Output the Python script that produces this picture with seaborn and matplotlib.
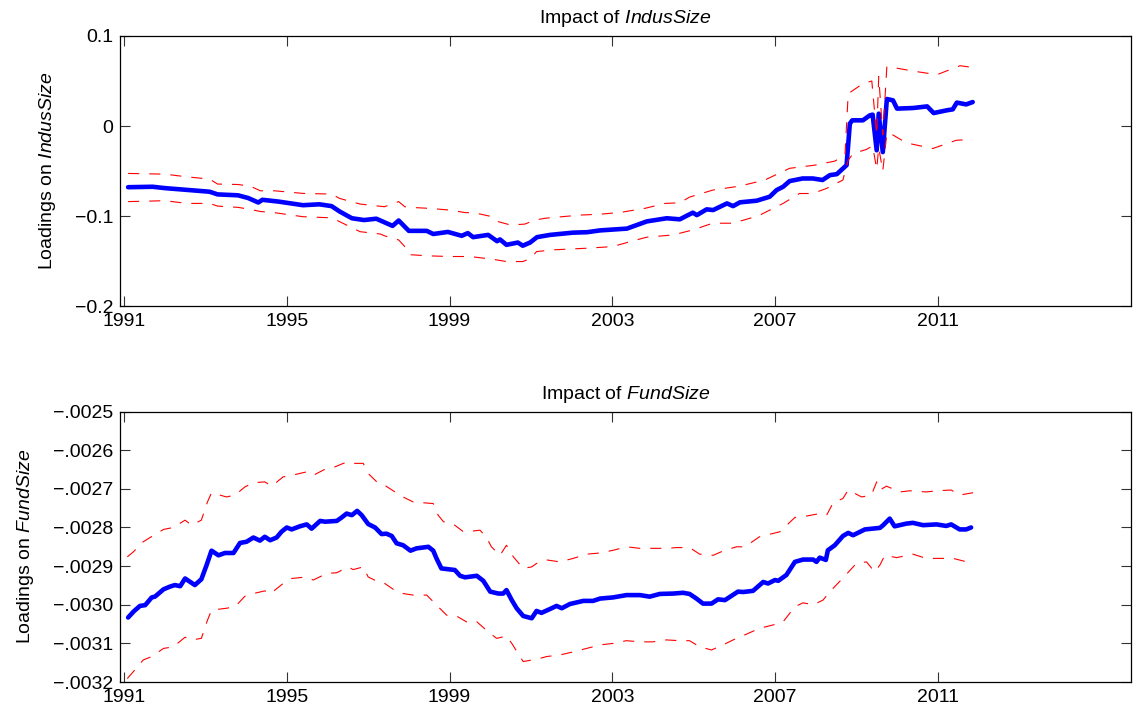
import numpy as np
import pandas as pd
import matplotlib
matplotlib.use("Agg")
import matplotlib.pyplot as plt
import seaborn as sns
from matplotlib.ticker import FuncFormatter, MultipleLocator

# ---- data (decimal years) ----
# Panel 1: loadings on IndusSize
indus_mean_years = [1991.1, 1991.7, 1992.0, 1992.55, 1993.1, 1993.3, 1993.8, 1994.05, 1994.3, 1994.4,
                    1994.8, 1995.4, 1995.8, 1996.1, 1996.3, 1996.6, 1996.9, 1997.2, 1997.6, 1997.75,
                    1998.0, 1998.44, 1998.6, 1998.96, 1999.3, 1999.45, 1999.58, 1999.95, 2000.17, 2000.24,
                    2000.4, 2000.68, 2000.8, 2000.98, 2001.15, 2001.47, 2002.03, 2002.38, 2002.7, 2003.36,
                    2003.85, 2004.34, 2004.66, 2004.98, 2005.08, 2005.32, 2005.48, 2005.82, 2005.97, 2006.14,
                    2006.55, 2006.87, 2007.04, 2007.2, 2007.36, 2007.68, 2007.93, 2008.17, 2008.35, 2008.52,
                    2008.76, 2008.84, 2008.9, 2009.16, 2009.33, 2009.4, 2009.5, 2009.55, 2009.65, 2009.75,
                    2009.9, 2010.0, 2010.4, 2010.74, 2010.9, 2011.22, 2011.37, 2011.47, 2011.7, 2011.86]
indus_mean = [-0.068, -0.0675, -0.069, -0.071, -0.073, -0.076, -0.077, -0.080, -0.085, -0.082,
              -0.084, -0.088, -0.087, -0.089, -0.095, -0.1025, -0.1045, -0.103, -0.111, -0.105,
              -0.1165, -0.1165, -0.120, -0.1177, -0.122, -0.119, -0.1235, -0.121, -0.128, -0.126,
              -0.132, -0.1295, -0.133, -0.1295, -0.1235, -0.121, -0.1185, -0.118, -0.116, -0.114,
              -0.106, -0.1025, -0.1037, -0.0963, -0.099, -0.0926, -0.0934, -0.086, -0.089, -0.0848,
              -0.083, -0.0786, -0.0712, -0.0675, -0.0612, -0.0583, -0.0583, -0.060, -0.0546, -0.0535,
              -0.0435, 0.0026, 0.0063, 0.0063, 0.0118, 0.0126, -0.027, 0.0137, -0.029, 0.030,
              0.0285, 0.0193, 0.020, 0.0218, 0.0144, 0.0174, 0.0185, 0.026, 0.024, 0.0266]

indus_hi_years = [1991.1, 1992.0, 1992.55, 1993.1, 1993.3, 1993.8, 1994.1, 1994.35, 1994.7, 1995.4,
                  1996.1, 1996.3, 1996.8, 1997.4, 1997.75, 1997.9, 1998.03, 1998.5, 1999.0, 1999.4,
                  1999.6, 2000.05, 2000.2, 2000.5, 2000.85, 2001.1, 2001.35, 2002.2, 2002.7, 2003.2,
                  2003.8, 2004.3, 2004.66, 2004.9, 2005.47, 2006.13, 2006.75, 2007.36, 2007.98, 2008.47,
                  2008.72, 2008.8, 2009.16, 2009.38, 2009.5, 2009.55, 2009.65, 2009.75, 2009.9, 2010.4,
                  2010.98, 2011.55, 2011.86]
indus_hi = [-0.0527, -0.0535, -0.0565, -0.059, -0.0645, -0.065, -0.0668, -0.072, -0.072, -0.0749,
            -0.0756, -0.0805, -0.0867, -0.0897, -0.084, -0.0897, -0.0904, -0.0915, -0.0934, -0.0963,
            -0.0963, -0.1008, -0.1063, -0.110, -0.109, -0.1045, -0.1025, -0.099, -0.098, -0.096,
            -0.0915, -0.086, -0.0853, -0.079, -0.0712, -0.0668, -0.060, -0.047, -0.0435, -0.039,
            -0.0324, 0.036, 0.047, 0.050, -0.010, 0.055, -0.010, 0.066, 0.065, 0.061,
            0.057, 0.067, 0.065]

indus_lo_years = [1991.1, 1992.0, 1992.55, 1993.1, 1993.3, 1993.8, 1994.1, 1994.35, 1994.7, 1995.4,
                  1996.1, 1996.3, 1996.8, 1997.3, 1997.4, 1997.75, 1997.9, 1998.03, 1998.5, 1999.0,
                  1999.5, 2000.05, 2000.4, 2000.8, 2001.0, 2001.14, 2001.55, 2002.37, 2003.0, 2003.84,
                  2004.5, 2004.98, 2005.47, 2005.97, 2006.6, 2007.2, 2007.6, 2007.93, 2008.27, 2008.67,
                  2008.8, 2008.92, 2009.25, 2009.4, 2009.5, 2009.55, 2009.65, 2009.75, 2009.9, 2010.23,
                  2010.88, 2011.46, 2011.86]
indus_lo = [-0.084, -0.083, -0.086, -0.086, -0.089, -0.0904, -0.0926, -0.095, -0.0963, -0.1008,
            -0.102, -0.1063, -0.1174, -0.120, -0.122, -0.1266, -0.134, -0.143, -0.1443, -0.145,
            -0.145, -0.148, -0.1506, -0.1506, -0.147, -0.1395, -0.1376, -0.1358, -0.134, -0.1236,
            -0.121, -0.1155, -0.108, -0.108, -0.0996, -0.086, -0.075, -0.075, -0.0693, -0.060,
            -0.038, -0.0306, -0.026, -0.022, -0.048, -0.024, -0.050, -0.008, -0.010, -0.0188,
            -0.025, -0.0158, -0.015]

# Panel 2: loadings on FundSize, values in units of 1e-4
fund_mean_years = [1991.1, 1991.23, 1991.39, 1991.52, 1991.68, 1991.76, 1991.97, 1992.13, 1992.25, 1992.38,
                   1992.5, 1992.74, 1992.9, 1993.03, 1993.15, 1993.32, 1993.48, 1993.69, 1993.85, 1994.01,
                   1994.18, 1994.34, 1994.46, 1994.59, 1994.75, 1994.87, 1995.0, 1995.12, 1995.32, 1995.49,
                   1995.61, 1995.82, 1995.94, 1996.23, 1996.35, 1996.47, 1996.6, 1996.73, 1996.84, 1997.0,
                   1997.17, 1997.33, 1997.45, 1997.58, 1997.7, 1997.86, 1998.04, 1998.19, 1998.48, 1998.6,
                   1998.68, 1998.8, 1999.13, 1999.26, 1999.38, 1999.67, 1999.83, 2000.0, 2000.2, 2000.32,
                   2000.4, 2000.53, 2000.65, 2000.81, 2001.02, 2001.14, 2001.26, 2001.47, 2001.63, 2001.76,
                   2001.96, 2002.29, 2002.53, 2002.7, 2003.02, 2003.35, 2003.68, 2003.92, 2004.17, 2004.5,
                   2004.74, 2004.9, 2005.07, 2005.23, 2005.44, 2005.6, 2005.77, 2006.09, 2006.22, 2006.46,
                   2006.71, 2006.83, 2007.0, 2007.08, 2007.28, 2007.49, 2007.69, 2007.94, 2008.02, 2008.1,
                   2008.25, 2008.3, 2008.47, 2008.67, 2008.8, 2008.92, 2009.21, 2009.58, 2009.66, 2009.82,
                   2009.94, 2010.23, 2010.39, 2010.64, 2010.97, 2011.21, 2011.33, 2011.54, 2011.7, 2011.82]
fund_mean_e4 = [-30.33, -30.18, -30.03, -30.01, -29.81, -29.79, -29.60, -29.53, -29.49, -29.52,
                -29.32, -29.49, -29.34, -28.97, -28.60, -28.72, -28.66, -28.66, -28.40, -28.37,
                -28.26, -28.34, -28.24, -28.33, -28.26, -28.11, -28.00, -28.05, -27.97, -27.92,
                -28.03, -27.83, -27.85, -27.83, -27.74, -27.64, -27.68, -27.57, -27.68, -27.91,
                -28.00, -28.17, -28.16, -28.22, -28.41, -28.46, -28.60, -28.54, -28.50, -28.60,
                -28.80, -29.06, -29.10, -29.25, -29.29, -29.25, -29.38, -29.66, -29.71, -29.71,
                -29.62, -29.88, -30.09, -30.29, -30.35, -30.16, -30.21, -30.11, -30.03, -30.09,
                -29.98, -29.90, -29.90, -29.84, -29.81, -29.75, -29.75, -29.79, -29.72, -29.71,
                -29.69, -29.72, -29.84, -29.97, -29.97, -29.86, -29.88, -29.66, -29.67, -29.64,
                -29.41, -29.45, -29.36, -29.38, -29.23, -28.89, -28.83, -28.83, -28.89, -28.78,
                -28.84, -28.59, -28.46, -28.22, -28.14, -28.20, -28.05, -28.01, -27.94, -27.77,
                -27.97, -27.90, -27.88, -27.94, -27.92, -27.96, -27.92, -28.05, -28.05, -28.00]

fund_hi_years = [1991.08, 1991.23, 1991.47, 1991.64, 1991.97, 1992.21, 1992.5, 1992.66, 1992.9, 1993.05,
                 1993.15, 1993.52, 1993.73, 1993.97, 1994.18, 1994.46, 1994.63, 1994.91, 1995.12, 1995.49,
                 1995.65, 1995.98, 1996.14, 1996.39, 1996.51, 1996.63, 1996.88, 1997.0, 1997.25, 1997.41,
                 1997.66, 1997.82, 1998.11, 1998.35, 1998.6, 1998.72, 1998.85, 1999.09, 1999.34, 1999.58,
                 1999.75, 1999.91, 2000.03, 2000.24, 2000.4, 2000.57, 2000.81, 2001.02, 2001.14, 2001.39,
                 2001.71, 2002.04, 2002.37, 2002.7, 2003.02, 2003.35, 2003.68, 2004.0, 2004.33, 2004.58,
                 2004.9, 2005.15, 2005.48, 2005.72, 2006.05, 2006.26, 2006.62, 2007.12, 2007.49, 2007.69,
                 2008.1, 2008.27, 2008.43, 2008.67, 2008.8, 2009.13, 2009.37, 2009.5, 2009.58, 2009.74,
                 2010.07, 2010.31, 2010.72, 2010.97, 2011.33, 2011.54, 2011.87]
fund_hi_e4 = [-28.76, -28.63, -28.37, -28.26, -28.05, -28.00, -27.81, -27.94, -27.81, -27.34,
              -27.10, -27.21, -27.16, -26.95, -26.84, -26.82, -26.93, -26.69, -26.65, -26.56,
              -26.65, -26.47, -26.45, -26.34, -26.30, -26.34, -26.34, -26.60, -26.86, -26.91,
              -27.08, -27.19, -27.34, -27.36, -27.38, -27.68, -27.85, -27.91, -28.11, -28.09,
              -28.07, -28.26, -28.50, -28.72, -28.46, -28.76, -29.06, -29.02, -28.93, -28.84,
              -28.89, -28.80, -28.69, -28.66, -28.59, -28.50, -28.54, -28.54, -28.54, -28.52,
              -28.52, -28.69, -28.72, -28.61, -28.50, -28.50, -28.24, -28.11, -27.74, -27.72,
              -27.64, -27.68, -27.36, -27.25, -27.03, -27.21, -27.16, -26.82, -27.03, -26.93,
              -27.08, -27.05, -27.08, -27.05, -27.03, -27.16, -27.10]

fund_lo_years = [1991.08, 1991.23, 1991.47, 1991.68, 1991.97, 1992.21, 1992.5, 1992.66, 1992.9, 1993.05,
                 1993.15, 1993.52, 1993.73, 1993.97, 1994.18, 1994.46, 1994.59, 1994.91, 1995.12, 1995.49,
                 1995.65, 1995.98, 1996.23, 1996.51, 1996.63, 1996.88, 1997.0, 1997.29, 1997.41, 1997.7,
                 1997.86, 1998.11, 1998.44, 1998.72, 1998.93, 1999.17, 1999.46, 1999.67, 1999.95, 2000.16,
                 2000.4, 2000.53, 2000.81, 2001.14, 2001.39, 2001.71, 2002.04, 2002.37, 2002.7, 2003.02,
                 2003.35, 2003.68, 2004.0, 2004.33, 2004.66, 2004.9, 2005.15, 2005.44, 2005.72, 2006.05,
                 2006.3, 2006.62, 2007.04, 2007.2, 2007.49, 2007.69, 2007.94, 2008.18, 2008.35, 2008.67,
                 2009.0, 2009.25, 2009.45, 2009.58, 2009.7, 2009.99, 2010.39, 2010.72, 2011.05, 2011.38,
                 2011.79]
fund_lo_e4 = [-31.91, -31.73, -31.43, -31.34, -31.13, -31.09, -30.84, -30.91, -30.87, -30.40,
              -30.14, -30.09, -30.05, -29.78, -29.71, -29.64, -29.72, -29.45, -29.32, -29.28,
              -29.36, -29.19, -29.17, -29.02, -29.09, -29.02, -29.28, -29.43, -29.45, -29.66,
              -29.71, -29.75, -29.75, -30.05, -30.27, -30.29, -30.47, -30.44, -30.70, -30.87,
              -30.81, -31.00, -31.47, -31.41, -31.34, -31.30, -31.22, -31.13, -31.04, -31.00,
              -30.93, -30.96, -30.96, -30.91, -30.93, -30.93, -31.09, -31.17, -31.04, -30.87,
              -30.76, -30.61, -30.50, -30.44, -30.05, -29.95, -30.00, -29.88, -29.66, -29.31,
              -28.93, -28.89, -29.15, -28.97, -28.72, -28.78, -28.69, -28.80, -28.80, -28.80,
              -28.91]

year_ticks = [1991, 1995, 1999, 2003, 2007, 2011]

# ---- style ----
sns.set_theme(style="ticks")
plt.rcParams["font.family"] = ["Liberation Sans", "DejaVu Sans"]
plt.rcParams["mathtext.fontset"] = "custom"
plt.rcParams["mathtext.rm"] = "Liberation Sans"
plt.rcParams["mathtext.it"] = "Liberation Sans:italic"
plt.rcParams["axes.edgecolor"] = "black"
plt.rcParams["axes.linewidth"] = 0.9
plt.rcParams["text.color"] = "black"
plt.rcParams["axes.labelcolor"] = "black"
plt.rcParams["axes.titlecolor"] = "black"

BLUE = "#0000ff"
RED = "#ff0000"
FS = 14


def fmt_top(v, pos):
    if abs(v) < 1e-9:
        return "0"
    return f"{v:.1f}".replace("-", "\u2212")


def fmt_bottom(v, pos):
    return f"{v:.4f}".replace("0.", ".").replace("-", "\u2212")


def draw_panel(ax, my, mv, hy, hv, ly, lv):
    sns.lineplot(x=my, y=mv, ax=ax, color=BLUE, linewidth=3.3, estimator=None, sort=False)
    for xs, ys in [(hy, hv), (ly, lv)]:
        sns.lineplot(x=xs, y=ys, ax=ax, color=RED, linewidth=0.8,
                     linestyle=(0, (10, 9)), estimator=None, sort=False)
    ax.set_xlim(1990.9, 2015.75)
    ax.set_xticks(year_ticks)
    ax.set_xticklabels([str(y) for y in year_ticks])
    ax.tick_params(direction="in", top=True, right=True, length=7, width=0.8,
                   color="#333333", labelsize=FS, pad=5, labelcolor="black")
    for s in ax.spines.values():
        s.set_visible(True)
        s.set_color("black")


fig = plt.figure(figsize=(11.33, 7.10), dpi=100)
ax1 = fig.add_axes([0.1059, 0.569, 0.8923, 0.3803])
ax2 = fig.add_axes([0.1059, 0.0394, 0.8923, 0.3809])

draw_panel(ax1, indus_mean_years, indus_mean, indus_hi_years, indus_hi, indus_lo_years, indus_lo)
ax1.set_ylim(-0.2, 0.1)
ax1.yaxis.set_major_locator(MultipleLocator(0.1))
ax1.yaxis.set_major_formatter(FuncFormatter(fmt_top))
ax1.set_title(r"Impact of $\mathit{IndusSize}$", fontsize=FS, pad=9)
ax1.set_ylabel(r"Loadings on $\mathit{IndusSize}$", fontsize=FS)
ax1.yaxis.set_label_coords(-0.061, 0.5)

fund_mean = np.array(fund_mean_e4) * 1e-4
fund_hi = np.array(fund_hi_e4) * 1e-4
fund_lo = np.array(fund_lo_e4) * 1e-4
draw_panel(ax2, fund_mean_years, fund_mean, fund_hi_years, fund_hi, fund_lo_years, fund_lo)
ax2.set_ylim(-0.0032, -0.0025)
ax2.set_yticks([-0.0032, -0.0031, -0.0030, -0.0029, -0.0028, -0.0027, -0.0026, -0.0025])
ax2.yaxis.set_major_formatter(FuncFormatter(fmt_bottom))
ax2.set_title(r"Impact of $\mathit{FundSize}$", fontsize=FS, pad=9)
ax2.set_ylabel(r"Loadings on $\mathit{FundSize}$", fontsize=FS)
ax2.yaxis.set_label_coords(-0.083, 0.5)

fig.savefig("out.png", dpi=100, facecolor="white")
